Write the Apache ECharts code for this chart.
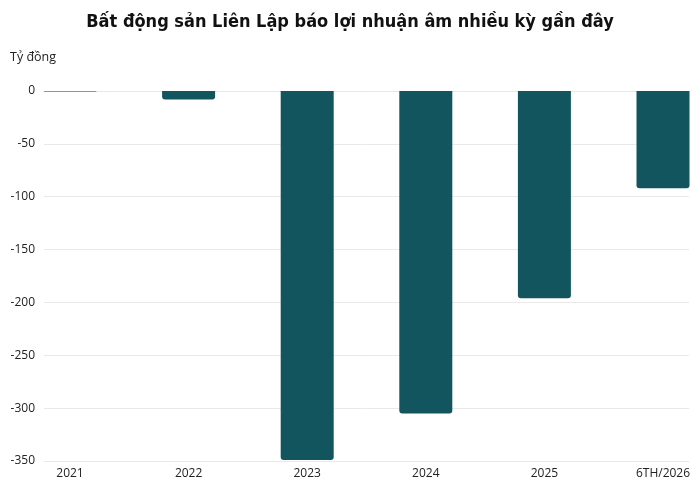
<!DOCTYPE html>
<html>
<head>
<meta charset="utf-8">
<script src="https://cdn.jsdelivr.net/npm/echarts@6/dist/echarts.min.js"></script>
<style>
  html, body { margin: 0; padding: 0; background: #fff; }
  #chart { width: 700px; height: 490px; }
</style>
</head>
<body>
<div id="chart"></div>
<script>
// dữ liệu lợi nhuận (tỷ đồng)
const categories = ['2021', '2022', '2023', '2024', '2025', '6TH/2026']
const profit = [-0.4, -8, -349, -305, -196, -92]
const yTicks = [0, -50, -100, -150, -200, -250, -300, -350]

const chart = echarts.init(document.getElementById('chart'))
const labelFont = '"Open Sans", "Noto Sans", sans-serif'

chart.setOption({
    backgroundColor: '#fff',
    title: [
        {
            text: 'Bất động sản Liên Lập báo lợi nhuận âm nhiều kỳ gần đây',
            left: 'center', top: 13, padding: 0,
            textStyle: { fontFamily: '"DejaVu Sans Condensed", "DejaVu Sans", sans-serif', fontWeight: 'bold', fontSize: 18, color: '#111' },
        },
        {
            text: 'Tỷ đồng',
            left: 10, top: 51, padding: 0,
            textStyle: { fontFamily: labelFont, fontWeight: 'normal', fontSize: 12.5, color: '#222' },
        },
    ],
    grid: [
        // vùng cột
        { left: 70, right: 37, top: 91, bottom: 29 },
        // vùng lưới + nhãn trục y
        { left: 44, right: 11, top: 91, bottom: 29 },
    ],
    xAxis: [
        {
            type: 'category', gridIndex: 0, data: categories, boundaryGap: false, position: 'bottom',
            axisLine: { show: false }, axisTick: { show: false },
            axisLabel: { color: '#222', fontSize: 12, fontFamily: labelFont, margin: 7 },
        },
        { type: 'category', gridIndex: 1, data: categories, show: false },
    ],
    yAxis: [
        { type: 'value', gridIndex: 0, min: -350, max: 0, interval: 50, show: false },
        {
            type: 'value', gridIndex: 1, min: -350, max: 0, interval: 50,
            axisLine: { show: false }, axisTick: { show: false },
            axisLabel: {
                color: '#222', fontSize: 12, fontFamily: labelFont, margin: 9,
                formatter: (v) => (yTicks.includes(v) ? String(v) : ''),
            },
            splitLine: { lineStyle: { color: '#e9e9e9', width: 1 } },
        },
    ],
    series: [
        {
            type: 'bar', xAxisIndex: 0, yAxisIndex: 0, data: profit,
            barWidth: 53,
            itemStyle: { color: '#12555f', borderRadius: [0, 0, 3, 3] },
        },
    ],
})
</script>
</body>
</html>
